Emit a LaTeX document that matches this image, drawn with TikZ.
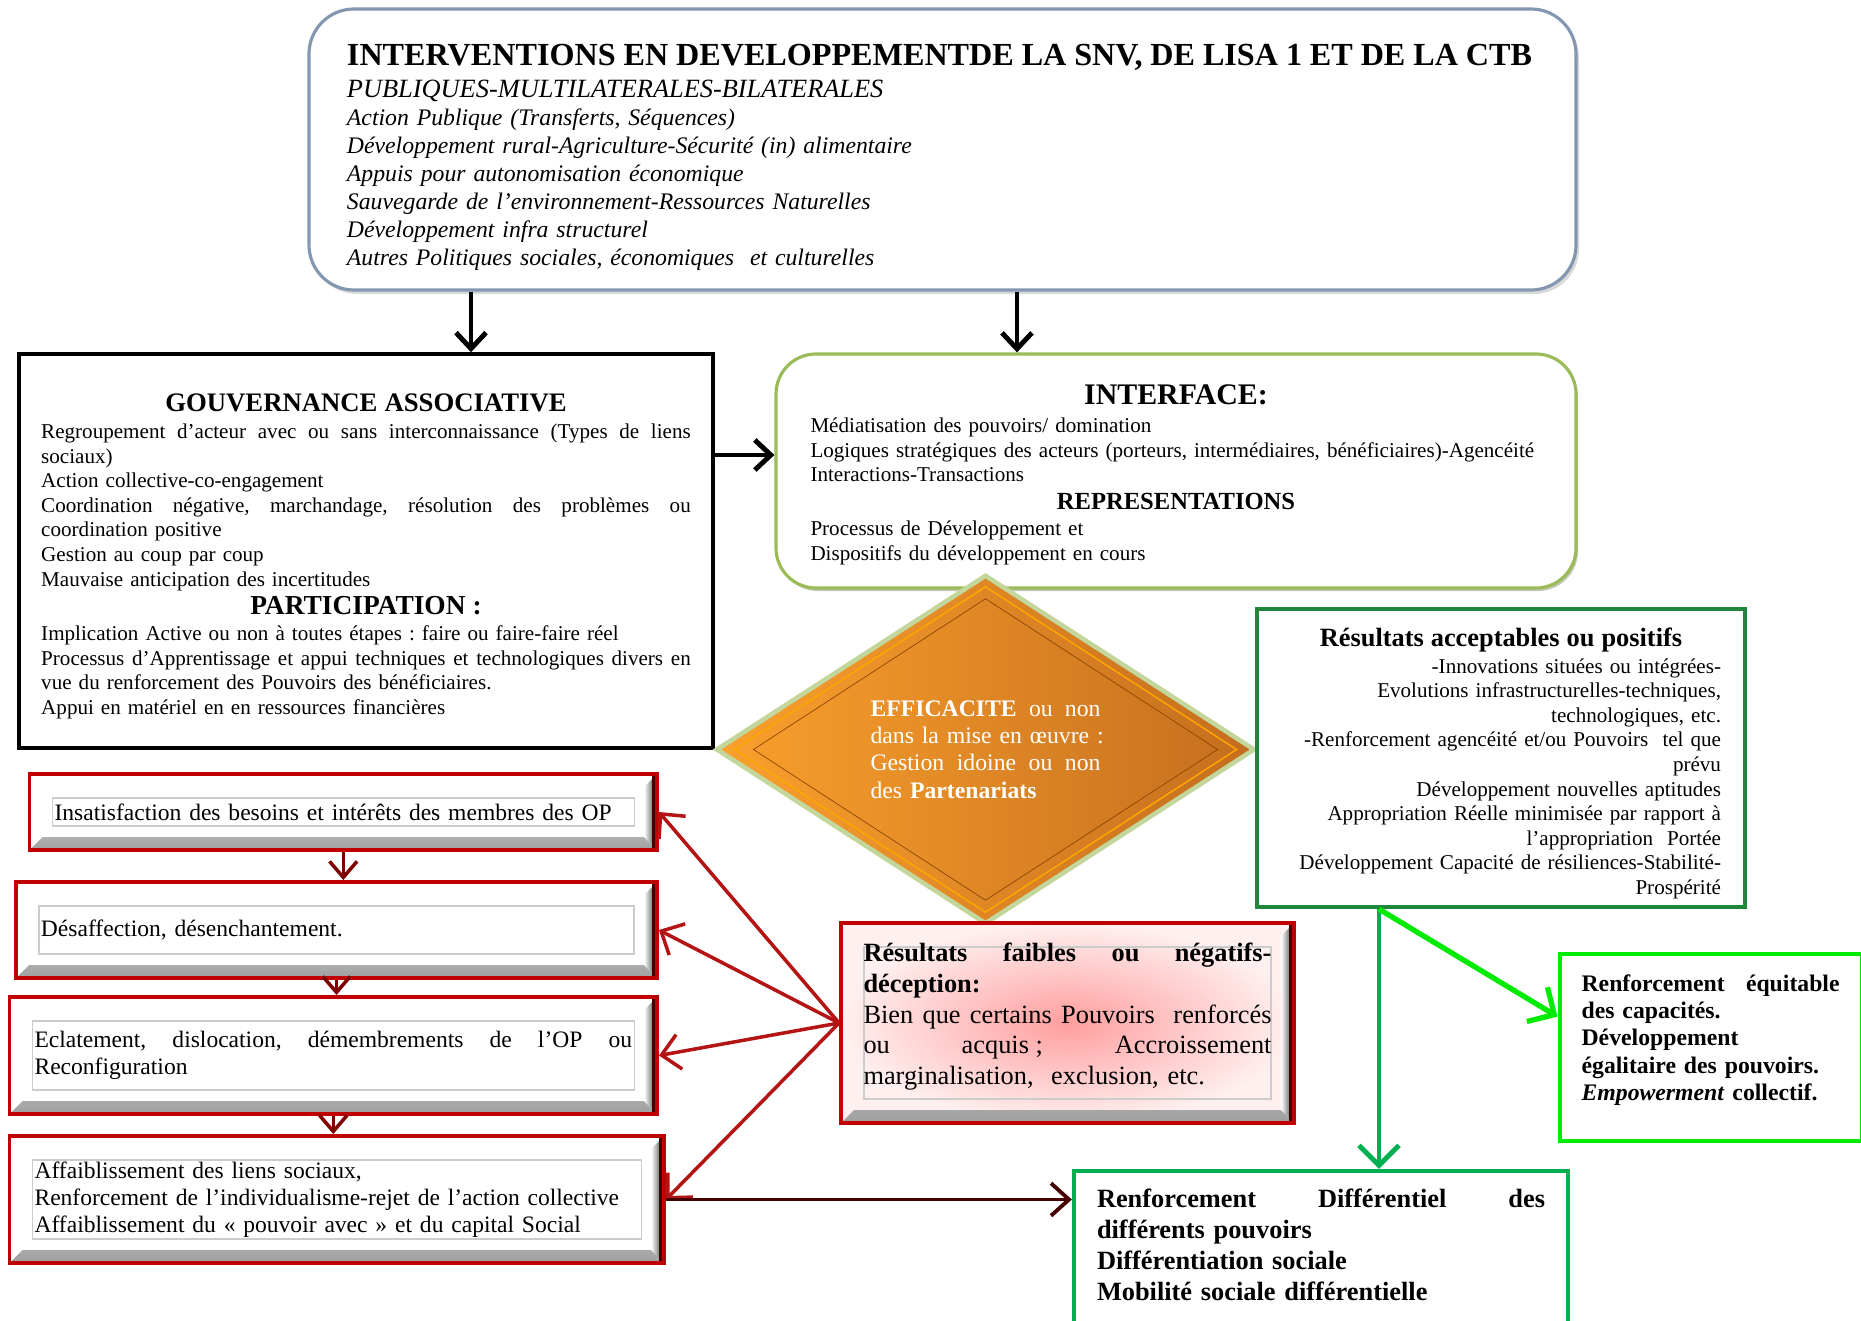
\documentclass[tikz,border=0pt]{standalone}
\usepackage{fontspec}
\setmainfont{Liberation Serif}
\usepackage{tikz}
\usetikzlibrary{shapes.geometric, arrows.meta, shadows, calc}
\setlength{\parindent}{0pt}

\definecolor{topblue}{RGB}{132,151,176}
\definecolor{intergreen}{RGB}{155,187,89}
\definecolor{diamedge}{RGB}{195,214,155}
\definecolor{orangelight}{RGB}{250,160,45}
\definecolor{orangedark}{RGB}{196,110,30}
\definecolor{accgreen}{RGB}{30,135,60}
\definecolor{brightgreen}{RGB}{0,235,0}
\definecolor{diffgreen}{RGB}{0,176,80}
\definecolor{boxred}{RGB}{192,0,0}
\definecolor{arrowred}{RGB}{180,20,20}
\definecolor{darkmaroon}{RGB}{70,0,0}

% a line stretched to the full text width, and a centred line
\newcommand{\fullline}[1]{\leavevmode\hbox to \hsize{\spaceskip=0.25em plus 1fil\xspaceskip=\spaceskip\relax #1}}
\newcommand{\midline}[1]{\leavevmode\hbox to \hsize{\hss #1\hss}}

\begin{document}
\frenchspacing
\begin{tikzpicture}[x=0.2mm, y=-0.2mm,
    every node/.style={inner ysep=1mm},
    topbox/.style={draw=topblue, line width=1.8pt, fill=white, rounded corners=9mm,
      drop shadow={opacity=0.3, shadow xshift=0.6mm, shadow yshift=-0.8mm},
      minimum width=253.4mm, minimum height=56.2mm, text width=238.2mm,
      inner xsep=7.6mm, align=left, font={\fontsize{13.5}{15.9}\selectfont\itshape}},
    gouvbox/.style={draw=black, line width=2pt, fill=white,
      minimum width=138.8mm, minimum height=78.8mm, text width=129.9mm,
      inner xsep=4.45mm, align=left, font={\fontsize{12}{14}\selectfont}},
    interbox/.style={draw=intergreen, line width=1.8pt, fill=white, rounded corners=8mm,
      drop shadow={opacity=0.35, shadow xshift=0.4mm, shadow yshift=-0.6mm, fill=intergreen!50!black},
      minimum width=160mm, minimum height=46.8mm, text width=146.2mm,
      inner xsep=6.9mm, align=left, font={\fontsize{12}{14}\selectfont}},
    losange/.style={diamond, draw=diamedge, line width=2.6pt,
      left color=orangelight, right color=orangedark,
      minimum width=107.8mm, minimum height=68.2mm, text width=46mm,
      align=left, text=white, font={\fontsize{13.5}{15.5}\selectfont},
      path picture={
        \draw[orange!70!yellow, line width=0.8pt]
          ([yshift=-2.2mm]path picture bounding box.north) -- ([xshift=-3.5mm]path picture bounding box.east)
          -- ([yshift=2.2mm]path picture bounding box.south) -- ([xshift=3.5mm]path picture bounding box.west) -- cycle;
        \draw[orange!55!black, line width=0.4pt]
          ([yshift=-4.6mm]path picture bounding box.north) -- ([xshift=-7.3mm]path picture bounding box.east)
          -- ([yshift=4.6mm]path picture bounding box.south) -- ([xshift=7.3mm]path picture bounding box.west) -- cycle;
      }},
    acceptbox/.style={draw=accgreen, line width=2.4pt, fill=white,
      minimum width=97.6mm, minimum height=59.6mm, text width=88mm,
      inner xsep=4.8mm, align=right, font={\fontsize{12}{14}\selectfont}},
    bevelbox/.style={draw=boxred, line width=2.2pt, fill=white,
      inner xsep=5mm, align=left, font={\fontsize{13.4}{15.4}\selectfont},
      path picture={
        % lower face
        \shade[top color=white, bottom color=gray!75]
          (path picture bounding box.south west) -- (path picture bounding box.south east)
          -- ([shift={(-2.6mm,2.6mm)}]path picture bounding box.south east)
          -- ([shift={(2.6mm,2.6mm)}]path picture bounding box.south west) -- cycle;
        % right face
        \shade[left color=white, right color=gray!40!black]
          (path picture bounding box.south east) -- (path picture bounding box.north east)
          -- ([shift={(-2.6mm,-2.6mm)}]path picture bounding box.north east)
          -- ([shift={(-2.6mm,2.6mm)}]path picture bounding box.south east) -- cycle;
        \fill[darkmaroon] ([xshift=-1.1mm]path picture bounding box.north east)
          rectangle (path picture bounding box.south east);
        % inner frame
        \draw[gray!40, line width=0.6pt]
          ([shift={(4.6mm,-4.8mm)}]path picture bounding box.north west)
          rectangle ([shift={(-4.6mm,4.8mm)}]path picture bounding box.south east);
      }},
    faiblebox/.style={bevelbox, inner color=red!38, outer color=red!6,
      inner xsep=4.5mm, font={\fontsize{15}{17.6}\selectfont}},
    equitbox/.style={draw=brightgreen, line width=2.4pt, fill=white,
      minimum width=60.4mm, minimum height=37.3mm, text width=51.6mm,
      inner xsep=4.4mm, align=left, font={\fontsize{13.5}{15.5}\selectfont\bfseries}},
    diffbox/.style={draw=diffgreen, line width=2.4pt, fill=white,
      minimum width=98.8mm, minimum height=32.8mm, text width=89.6mm,
      inner xsep=4.6mm, align=left, font={\fontsize{15}{17.6}\selectfont\bfseries}},
    blackarrow/.style={draw=black, line width=2.8pt, -{Straight Barb[length=3.2mm, width=6mm]}},
    redarrow/.style={draw=arrowred, line width=2pt, -{Straight Barb[length=3.6mm, width=7mm]}},
    downarrow/.style={draw=red!50!black, line width=2pt, -{Straight Barb[length=3.2mm, width=5.5mm]}},
    darkarrow/.style={draw=darkmaroon, line width=2.2pt, -{Straight Barb[length=3.6mm, width=6.5mm]}},
    greenarrow/.style={draw=diffgreen, line width=2.8pt, -{Straight Barb[length=4mm, width=8mm]}},
    limearrow/.style={draw=brightgreen, line width=3pt, -{Straight Barb[length=4mm, width=8mm]}}
  ]
  \useasboundingbox (0,0) rectangle (1861,1321);
  \clip (0,0) rectangle (1861,1321);

  % Interventions
  \node[topbox] (top) at (942.5,149.5) {
    \rule{0pt}{21pt}{\upshape\bfseries\fontsize{18.3}{17}\selectfont INTERVENTIONS EN DEVELOPPEMENTDE LA SNV, DE LISA 1 ET DE LA CTB}\\[2.3pt]
    {\fontsize{15}{15.9}\selectfont PUBLIQUES-MULTILATERALES-BILATERALES}\\
    Action Publique (Transferts, Séquences)\\
    Développement rural-Agriculture-Sécurité (in) alimentaire\\
    Appuis pour autonomisation économique\\
    Sauvegarde de l’environnement-Ressources Naturelles\\
    Développement infra structurel\\
    Autres Politiques sociales, économiques\ \ et culturelles};

  % Gouvernance and interface
  \node[gouvbox] (gouv) at (366,551) {
    \rule{0pt}{16pt}\midline{\fontsize{15.2}{14}\selectfont\bfseries GOUVERNANCE ASSOCIATIVE}\\[1.5pt]
    \fullline{Regroupement d’acteur avec ou sans interconnaissance (Types de liens}\\
    sociaux)\\
    Action collective-co-engagement\\
    \fullline{Coordination négative, marchandage, résolution des problèmes ou}\\
    coordination positive\\
    Gestion au coup par coup\\
    Mauvaise anticipation des incertitudes\\[2pt]
    \midline{\fontsize{15.6}{14}\selectfont\bfseries PARTICIPATION :}\\[1pt]
    Implication Active ou non à toutes étapes : faire ou faire-faire réel\\
    \fullline{Processus d’Apprentissage et appui techniques et technologiques divers en}\\
    vue du renforcement des Pouvoirs des bénéficiaires.\\
    Appui en matériel en en ressources financières};

  \node[interbox] (inter) at (1176,471) {
    \rule{0pt}{15.5pt}\midline{\fontsize{17}{14}\selectfont\bfseries INTERFACE:}\\[2pt]
    Médiatisation des pouvoirs/ domination\\
    Logiques stratégiques des acteurs (porteurs, intermédiaires, bénéficiaires)-Agencéité\\
    Interactions-Transactions\\[1.5pt]
    \midline{\fontsize{14}{14}\selectfont\bfseries REPRESENTATIONS}\\[1pt]
    Processus de Développement et\\
    Dispositifs du développement en cours};

  % Efficacite
  \node[losange] (effic) at (985.5,749.5) {
    \fullline{\textbf{EFFICACITE} ou non}\\
    \mbox{dans la mise en œuvre :}\\
    \fullline{Gestion idoine ou non}\\
    des \textbf{Partenariats}};

  % Results
  \node[acceptbox] (accept) at (1501,758) {
    \rule{0pt}{17pt}\midline{\fontsize{15}{14}\selectfont\bfseries Résultats acceptables ou positifs}\\[1pt]
    -Innovations situées ou intégrées-\\
    Evolutions infrastructurelles-techniques,\\
    technologiques, etc.\\
    -Renforcement agencéité et/ou Pouvoirs\ \ tel que\\
    prévu\\
    Développement nouvelles aptitudes\\
    Appropriation Réelle minimisée par rapport à\\
    l’appropriation\ \ Portée\\
    Développement Capacité de résiliences-Stabilité-\\
    Prospérité};

  \node[faiblebox, minimum width=90.6mm, minimum height=40mm, text width=81.6mm] (faible) at (1067.5,1023) {
    \fullline{\textbf{Résultats faibles ou négatifs-}}\\
    \textbf{déception:}\\
    \fullline{Bien que certains Pouvoirs\ \ renforcés}\\
    \fullline{ou acquis\hspace{0.25em}; Accroissement}\\
    marginalisation,\ \ exclusion, etc.\rule[-10.5pt]{0pt}{1pt}};

  \node[equitbox] (equit) at (1710.6,1047.6) {
    \fullline{Renforcement équitable}\\
    des capacités.\\
    Développement\\
    égalitaire des pouvoirs.\\
    \textit{Empowerment} collectif.\rule[-11.5pt]{0pt}{1pt}};

  \node[diffbox] (diff) at (1321,1253) {
    \fullline{Renforcement Différentiel des}\\
    différents pouvoirs\\
    Différentiation sociale\\
    Mobilité sociale différentielle\rule[-9pt]{0pt}{1pt}};

  % Chain of effects
  \node[bevelbox, minimum width=125.5mm, minimum height=15.2mm, text width=115.5mm] (insat) at (343.3,812)
    {Insatisfaction des besoins et intérêts des membres des OP};
  \node[bevelbox, minimum width=128.2mm, minimum height=19.2mm, text width=118.2mm] (desaf) at (336.5,930)
    {Désaffection, désenchantement.};
  \node[bevelbox, minimum width=129.5mm, minimum height=23.4mm, text width=119.5mm] (eclat) at (333.3,1055.5)
    {\fullline{Eclatement, dislocation, démembrements de l’OP ou}\\ Reconfiguration};
  \node[bevelbox, minimum width=130.9mm, minimum height=25.4mm, text width=120.9mm] (affai) at (336.8,1199.5)
    {Affaiblissement des liens sociaux,\\
     Renforcement de l’individualisme-rejet de l’action collective\\
     Affaiblissement du « pouvoir avec » et du capital Social};

  % Connectors
  \draw[blackarrow] ([xshift=21mm]gouv.north |- top.south) -- ([xshift=21mm]gouv.north);
  \draw[blackarrow] ([xshift=-31.8mm]inter.north |- top.south) -- ([xshift=-31.8mm]inter.north);
  \draw[blackarrow] ([yshift=19.2mm]gouv.east) -- ([yshift=19.2mm]gouv.east -| inter.west);

  \foreach \a/\b in {insat/desaf, desaf/eclat, eclat/affai}
    \draw[downarrow] (\a.south) -- (\a.south |- \b.north);

  \foreach \b in {insat, desaf, eclat, affai}
    \draw[redarrow] (faible.west) -- (\b.east);

  \draw[darkarrow] (affai.east) -- (affai.east -| diff.west);

  \coordinate (split) at ([xshift=-24.4mm]accept.south);
  \draw[greenarrow] (split) -- (split |- diff.north);
  \draw[limearrow] (split) -- ([yshift=6.2mm]equit.west);
\end{tikzpicture}
\end{document}
